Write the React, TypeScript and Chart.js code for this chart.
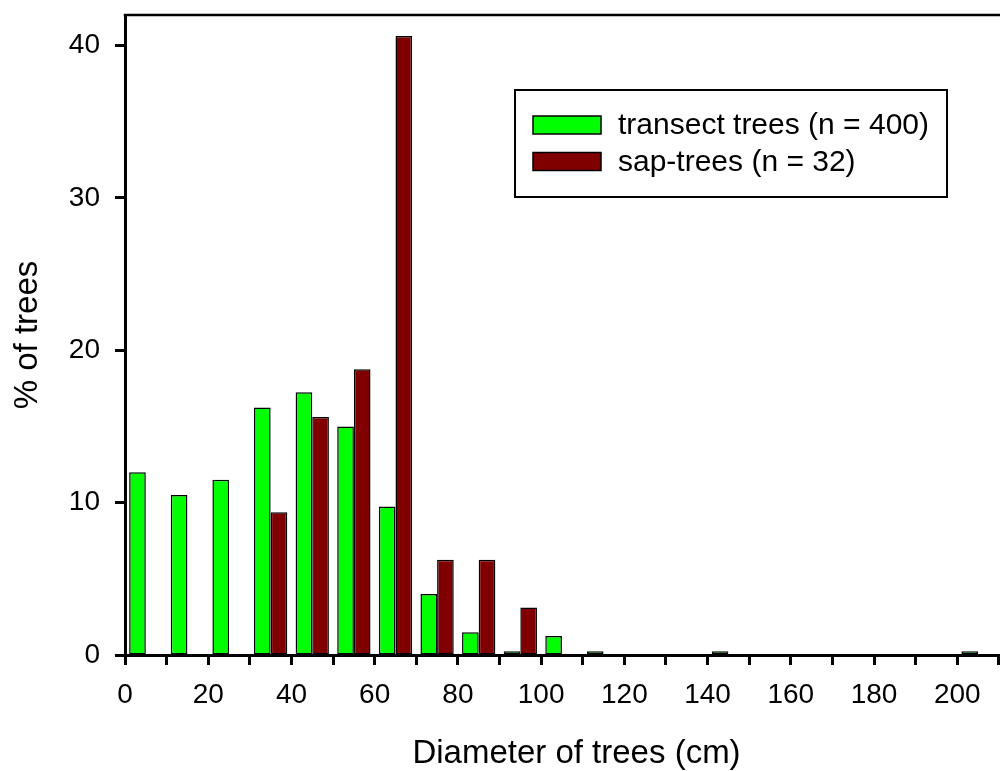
import React, { useEffect, useRef } from 'react';
import { Chart, registerables } from 'chart.js';

Chart.register(...registerables);

// ---- data ----
const binStarts = [0, 10, 20, 30, 40, 50, 60, 70, 80, 90, 100, 110, 120, 130, 140, 150, 160, 170, 180, 190, 200];
const transectPct = [12, 10.5, 11.5, 16.25, 17.25, 15, 9.75, 4, 1.5, 0.25, 1.25, 0.25, 0, 0, 0.25, 0, 0, 0, 0, 0, 0.25];
const sapPct = [0, 0, 0, 9.375, 15.625, 18.75, 40.625, 6.25, 6.25, 3.125, 0, 0, 0, 0, 0, 0, 0, 0, 0, 0, 0];
const seriesNames = ['transect trees (n = 400)', 'sap-trees (n = 32)'];
const seriesColors = ['#00ff00', '#800000'];
const xTickLabels = [0, 20, 40, 60, 80, 100, 120, 140, 160, 180, 200];
const yTickLabels = [0, 10, 20, 30, 40];
const xTitle = 'Diameter of trees (cm)';
const yTitle = '% of trees';

const FONT = '"Liberation Sans", Arial, Helvetica, sans-serif';

const toPoints = (vals: number[]) =>
  binStarts.map((s, i) => ({ x: s + 5, y: vals[i] === 0 ? null : vals[i] }));

const framePlugin = {
  id: 'frame',
  afterDraw(chart: any) {
    const { ctx, chartArea } = chart;
    ctx.save();
    ctx.strokeStyle = '#000';
    ctx.lineWidth = 2.5;
    ctx.beginPath();
    ctx.moveTo(chartArea.left - 1.25, chartArea.top);
    ctx.lineTo(chartArea.right, chartArea.top);
    ctx.lineTo(chartArea.right, chartArea.bottom);
    ctx.stroke();
    ctx.restore();
  },
};

const legendPlugin = {
  id: 'boxLegend',
  afterDraw(chart: any) {
    const { ctx } = chart;
    ctx.save();
    const bx = 515, by = 90, bw = 432, bh = 107;
    ctx.fillStyle = '#fff';
    ctx.fillRect(bx, by, bw, bh);
    ctx.lineWidth = 2;
    ctx.strokeStyle = '#000';
    ctx.strokeRect(bx, by, bw, bh);
    chart.data.datasets.forEach((ds: any, i: number) => {
      const sy = 116 + i * 36.5;
      ctx.fillStyle = ds.backgroundColor;
      ctx.fillRect(533, sy, 68, 18);
      ctx.lineWidth = 1.5;
      ctx.strokeStyle = '#000';
      ctx.strokeRect(533, sy, 68, 18);
      ctx.fillStyle = '#000';
      ctx.font = '30px ' + FONT;
      ctx.textBaseline = 'middle';
      ctx.textAlign = 'left';
      ctx.fillText(ds.label, 618, sy + 10);
    });
    ctx.restore();
  },
};

export default function App() {
  const ref = useRef<HTMLCanvasElement>(null);

  useEffect(() => {
    if (!ref.current) return;
    Chart.defaults.color = '#000';
    const chart = new Chart(ref.current, {
      type: 'bar',
      data: {
        datasets: [
          {
            label: seriesNames[0],
            data: toPoints(transectPct) as any,
            backgroundColor: seriesColors[0],
            borderColor: '#000',
            borderWidth: 1.5,
            borderSkipped: false,
          },
          {
            label: seriesNames[1],
            data: toPoints(sapPct) as any,
            backgroundColor: seriesColors[1],
            borderColor: '#000',
            borderWidth: 1.5,
            borderSkipped: false,
          },
        ],
      },
      options: {
        responsive: false,
        animation: false,
        categoryPercentage: 0.8,
        barPercentage: 1.0,
        layout: { padding: { top: 15, right: 12, left: 0, bottom: 0 } },
        plugins: {
          legend: { display: false },
          tooltip: { enabled: false },
        },
        scales: {
          x: {
            type: 'linear',
            min: 0,
            max: 217,
            offset: false,
            grid: {
              display: true,
              drawOnChartArea: false,
              drawTicks: true,
              tickLength: 10,
              tickColor: '#000',
              tickWidth: 3,
              offset: false,
            },
            border: { display: true, color: '#000', width: 3 },
            ticks: {
              stepSize: 10,
              includeBounds: false,
              autoSkip: false,
              maxRotation: 0,
              minRotation: 0,
              padding: 13,
              color: '#000',
              font: { family: FONT, size: 28 },
              callback: (v: any) => (xTickLabels.includes(Number(v)) ? String(v) : ''),
            },
            title: {
              display: true,
              text: xTitle,
              color: '#000',
              font: { family: FONT, size: 33 },
              padding: { top: 0, bottom: -3 },
            },
            afterFit: (s: any) => {
              s.height = 116;
              s.paddingLeft = 0;
              s.paddingRight = 0;
            },
          },
          y: {
            type: 'linear',
            min: 0,
            max: 42,
            grid: {
              display: true,
              drawOnChartArea: false,
              drawTicks: true,
              tickLength: 10,
              tickColor: '#000',
              tickWidth: 3,
            },
            border: { display: true, color: '#000', width: 3 },
            ticks: {
              stepSize: 10,
              includeBounds: false,
              padding: 15,
              color: '#000',
              font: { family: FONT, size: 28 },
              callback: (v: any) => (yTickLabels.includes(Number(v)) ? String(v) : ''),
            },
            title: {
              display: true,
              text: yTitle,
              color: '#000',
              font: { family: FONT, size: 33 },
              padding: { top: 8, bottom: 0 },
            },
            afterFit: (s: any) => {
              s.width = 125;
              s.paddingTop = 0;
              s.paddingBottom = 0;
            },
          },
        },
      },
      plugins: [framePlugin, legendPlugin],
    });
    return () => chart.destroy();
  }, []);

  return (
    <div
      style={{
        position: 'fixed',
        left: 0,
        top: 0,
        width: 1000,
        height: 771,
        overflow: 'hidden',
        background: '#fff',
      }}
    >
      <canvas ref={ref} width={1040} height={771} style={{ display: 'block', width: 1040, height: 771 }} />
    </div>
  );
}
